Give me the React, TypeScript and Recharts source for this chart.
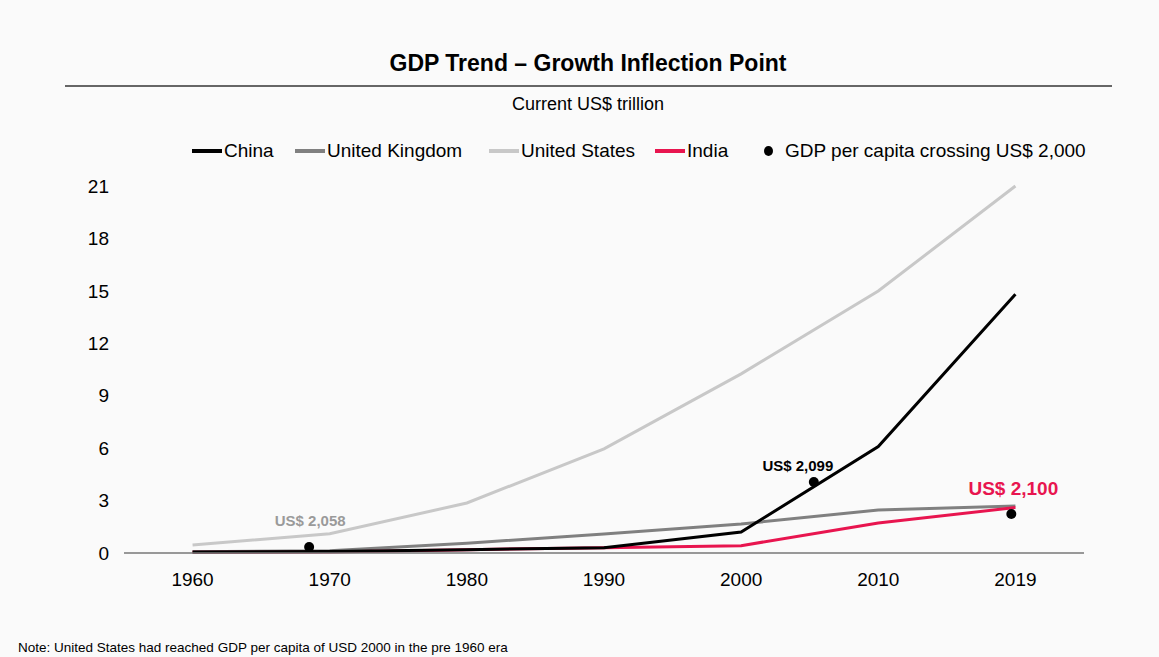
import {
  ComposedChart,
  Line,
  Scatter,
  XAxis,
  YAxis,
} from "recharts";

const years = ["1960", "1970", "1980", "1990", "2000", "2010", "2019"];
const china = [0.06, 0.09, 0.19, 0.3, 1.2, 6.09, 14.8];
const unitedKingdom = [0.07, 0.13, 0.56, 1.09, 1.66, 2.46, 2.69];
const unitedStates = [0.46, 1.1, 2.86, 5.96, 10.25, 14.99, 21.0];
const india = [0.04, 0.06, 0.19, 0.3, 0.42, 1.72, 2.6];

// GDP per capita crossing US$ 2,000 (x = position on the year axis)
const crossingPos = [0.85, 4.53, 5.97];
const crossingValue = [0.34, 4.06, 2.23];
const crossingLabel = ["US$ 2,058", "US$ 2,099", "US$ 2,100"];

const yTicks = [0, 3, 6, 9, 12, 15, 18, 21];

const FONT = "'Liberation Sans', Arial, sans-serif";
const RED = "#e8154f";

const lineData = years.map((y, i) => ({
  idx: i,
  china: china[i],
  uk: unitedKingdom[i],
  us: unitedStates[i],
  india: india[i],
}));

const dotData = crossingPos.map((p, i) => ({
  idx: p,
  value: crossingValue[i],
  label: crossingLabel[i],
}));

const labelStyles = [
  { dx: 1, dy: -21, fill: "#9a9a9a", size: 15 },
  { dx: -16, dy: -11, fill: "#000", size: 15 },
  { dx: 2, dy: -19, fill: RED, size: 19 },
];

function CrossingDot(props: any) {
  const { cx, cy, payload, index } = props;
  const s = labelStyles[index] || labelStyles[0];
  return (
    <g>
      <circle cx={cx} cy={cy} r={5} fill="#000" />
      <text
        x={cx + s.dx}
        y={cy + s.dy}
        textAnchor="middle"
        fontFamily={FONT}
        fontWeight="bold"
        fontSize={s.size}
        fill={s.fill}
      >
        {payload.label}
      </text>
    </g>
  );
}

const legendItems = [
  { name: "China", color: "#000", x: 192 },
  { name: "United Kingdom", color: "#808080", x: 295 },
  { name: "United States", color: "#c8c8c8", x: 489 },
  { name: "India", color: RED, x: 655 },
];

export default function App() {
  return (
    <div
      style={{
        position: "absolute",
        left: 0,
        top: 0,
        width: 1159,
        height: 657,
        background: "#fafafa",
        fontFamily: FONT,
        color: "#000",
      }}
    >
      <div
        style={{
          position: "absolute",
          left: 0,
          width: 1176,
          top: 50,
          textAlign: "center",
          fontWeight: "bold",
          fontSize: 23,
        }}
      >
        GDP Trend – Growth Inflection Point
      </div>
      <div
        style={{
          position: "absolute",
          left: 65,
          width: 1047,
          top: 85,
          height: 2,
          background: "#666",
        }}
      />
      <div
        style={{
          position: "absolute",
          left: 0,
          width: 1176,
          top: 94,
          textAlign: "center",
          fontSize: 18,
        }}
      >
        Current US$ trillion
      </div>
      {legendItems.map((it) => (
        <div
          key={it.name}
          style={{
            position: "absolute",
            left: it.x,
            top: 140,
            display: "flex",
            alignItems: "center",
            fontSize: 19,
          }}
        >
          <span
            style={{
              display: "inline-block",
              width: 30,
              height: 4,
              background: it.color,
              marginRight: 2,
            }}
          />
          {it.name}
        </div>
      ))}
      <div
        style={{
          position: "absolute",
          left: 764,
          top: 140,
          display: "flex",
          alignItems: "center",
          fontSize: 19,
        }}
      >
        <span
          style={{
            display: "inline-block",
            width: 9,
            height: 10,
            borderRadius: "50%",
            background: "#000",
            marginRight: 12,
          }}
        />
        GDP per capita crossing US$ 2,000
      </div>

      <div style={{ position: "absolute", left: 0, top: 0 }}>
        <ComposedChart
          width={1159}
          height={657}
          data={lineData}
          margin={{ top: 186, right: 75, bottom: 74, left: 0 }}
        >
          <XAxis
            type="number"
            dataKey="idx"
            domain={[-0.5, 6.5]}
            ticks={[0, 1, 2, 3, 4, 5, 6]}
            tickFormatter={(v: number) => years[v]}
            axisLine={{ stroke: "#777", strokeWidth: 1.5 }}
            tickLine={false}
            tickMargin={14}
            tick={{ fill: "#000", fontSize: 19, fontFamily: FONT }}
            allowDecimals
          />
          <YAxis
            domain={[0, 21]}
            ticks={yTicks}
            width={124}
            axisLine={false}
            tickLine={false}
            tickSize={0}
            tickMargin={15}
            tick={{ fill: "#000", fontSize: 19, fontFamily: FONT }}
          />
          <Line
            dataKey="us"
            stroke="#c8c8c8"
            strokeWidth={3}
            dot={false}
            isAnimationActive={false}
          />
          <Line
            dataKey="uk"
            stroke="#808080"
            strokeWidth={3}
            dot={false}
            isAnimationActive={false}
          />
          <Line
            dataKey="india"
            stroke={RED}
            strokeWidth={3}
            dot={false}
            isAnimationActive={false}
          />
          <Line
            dataKey="china"
            stroke="#000"
            strokeWidth={3}
            dot={false}
            isAnimationActive={false}
          />
          <Scatter
            data={dotData}
            dataKey="value"
            shape={<CrossingDot />}
            isAnimationActive={false}
          />
        </ComposedChart>
      </div>

      <div
        style={{
          position: "absolute",
          left: 18,
          top: 640,
          fontSize: 13.5,
        }}
      >
        Note: United States had reached GDP per capita of USD 2000 in the pre 1960 era
      </div>
    </div>
  );
}
